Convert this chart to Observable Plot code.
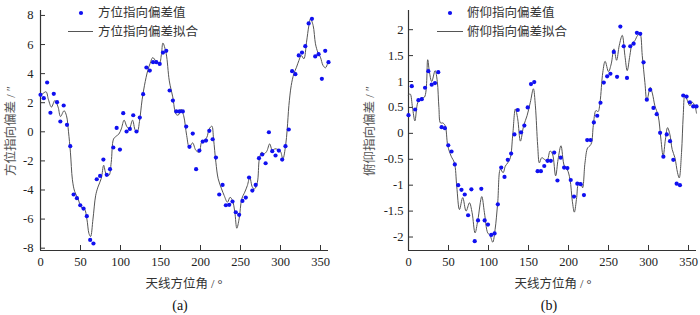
<!DOCTYPE html>
<html><head><meta charset="utf-8">
<script src="https://cdn.jsdelivr.net/npm/d3@7"></script>
<script src="https://cdn.jsdelivr.net/npm/@observablehq/plot@0.6"></script>
<style>
body{margin:0;background:#fff;}
#wrap{position:relative;width:700px;height:315px;overflow:hidden;font-family:"Liberation Serif","Noto Sans CJK SC",serif;}
.panel{position:absolute;top:0;width:350px;height:315px;}
.panel svg{position:absolute;left:0;top:0;}
.t{position:absolute;white-space:nowrap;line-height:1;color:#222;}
.ylab{font-size:12.5px;color:#555;transform:translate(-50%,-50%) rotate(-90deg);}
.xlab{font-size:12.5px;color:#333;transform:translate(-50%,-50%);}
.cap{font-size:14px;color:#111;transform:translate(-50%,-50%);}
.leg{font-size:12.5px;color:#333;transform:translateY(-50%);}
.sw{position:absolute;}
</style></head>
<body><div id="wrap"></div>
<script>
// Antenna azimuth of each measurement (deg)
const azimuth = [0,4.1,8.3,12.4,16.6,20.7,24.8,29.0,33.1,37.2,41.4,45.5,49.7,53.8,57.9,62.1,66.2,70.3,74.5,78.6,82.8,86.9,91.0,95.2,99.3,103.4,107.6,111.7,115.9,120.0,124.1,128.3,132.4,136.6,140.7,144.8,149.0,153.1,157.2,161.4,165.5,169.7,173.8,177.9,182.1,186.2,190.3,194.5,198.6,202.8,206.9,211.0,215.2,219.3,223.4,227.6,231.7,235.9,240.0,244.1,248.3,252.4,256.6,260.7,264.8,269.0,273.1,277.2,281.4,285.5,289.7,293.8,297.9,302.1,306.2,310.3,314.5,318.6,322.8,326.9,331.0,335.2,339.3,343.4,347.6,351.7,355.9,360.0];
// Azimuth pointing deviation (arcsec)
const azDev = [2.54,2.31,3.39,1.31,2.61,2.04,0.71,1.81,0.48,-0.99,-4.31,-4.56,-5.05,-5.28,-5.8,-7.43,-7.68,-3.26,-3.03,-1.91,-2.96,-2.57,-1.08,0.27,-1.22,1.28,0.02,0.2,1.14,0.02,0.98,2.59,4.42,4.21,4.79,4.79,4.67,5.45,5.57,2.84,2.15,1.4,1.4,1.4,0.36,-1.03,-0.12,-2.57,-1.29,-0.67,-0.6,0.07,-0.51,-1.77,-4.31,-3.65,-5.05,-5.02,-4.79,-5.53,-5.71,-4.75,-4.52,-3.14,-4.04,-3.65,-1.81,-1.56,-2.16,-0.03,-1.33,-1.63,-1.29,-1.91,-0.99,0.16,4.17,3.96,5.25,5.45,5.89,7.45,7.77,5.18,5.34,3.64,5.57,4.79];
// Elevation pointing deviation (arcsec)
const elDev = [0.35,0.91,0.46,0.64,0.66,0.88,1.2,0.94,0.97,1.18,0.12,0.1,-0.23,-0.35,-0.6,-1.0,-1.09,-1.18,-1.58,-1.08,-2.08,-1.68,-1.07,-1.68,-1.76,-1.96,-1.93,-1.37,-0.66,-0.84,-0.51,-0.39,-0.02,0.45,0.02,0.15,0.5,0.95,0.99,-0.73,-0.73,-0.63,-0.53,-0.53,-0.37,-0.91,-0.47,-0.66,-0.67,-0.9,-1.22,-0.97,-0.98,-1.19,-0.13,-0.13,0.21,0.34,0.59,0.98,1.1,1.15,1.57,1.09,2.06,1.68,1.07,1.68,1.73,1.94,1.92,1.37,0.65,0.84,0.49,0.37,0.01,-0.45,-0.02,-0.15,-0.51,-0.97,-1.0,0.73,0.71,0.6,0.52,0.52];
// Fitted curves
const azFitX = [0,3.5,7,10,13.7,18,22,25,29.5,32.5,35,37.4,39.9,42.7,46.9,51.1,55,58,60.6,62.6,65.6,68.9,71.8,76,79,82,85.5,88.4,91.3,94.6,98,101,104.5,108,111,115,118.5,121,123.7,127,130,134,137,140.3,144.5,148.6,151.1,153,157,161,165.3,169.5,172.3,175.7,179,182.7,186,190.1,194.3,198.4,201.4,204.7,208,210.9,214.2,216.3,219.2,222.1,226.3,229.6,233.7,237,240,242.9,245.4,248.3,251.6,255.3,258.6,261.6,264.9,267.8,271.1,273.6,276.5,279.4,282.7,286.5,289.8,293.1,296.9,300,303,306.4,308.4,310.5,313.4,316.7,320,323,325.9,329.2,332.5,335.5,337.5,340.8,343.7,346.6,349.9,353.2,356.2,359,360];
const azFitY = [2.5,2.65,2.75,2.2,1.7,2.15,1.7,1.05,1.45,1.1,0.0,-1.4,-3.3,-4.1,-4.6,-5.2,-5.3,-6.0,-7.0,-7.2,-6.0,-4.4,-3.8,-3.2,-2.3,-2.9,-3.0,-2.1,-0.5,-0.3,-0.15,0.2,0.8,0.35,0.2,0.8,0.1,0.0,0.7,2.2,3.2,4.2,4.7,5.1,4.85,4.7,5.3,6.1,5.4,3.5,2.4,1.2,1.15,1.55,1.1,-0.25,-1.06,-0.76,-1.28,-1.4,-0.71,-0.6,-0.37,0.2,0.39,-0.48,-2.09,-3.23,-3.92,-4.38,-4.84,-4.5,-4.73,-5.53,-6.63,-5.98,-4.61,-4.15,-3.69,-3.12,-3.81,-3.92,-3.47,-1.86,-1.4,-1.51,-1.35,-0.83,-1.28,-1.17,-1.22,-1.35,-1.86,-0.94,0.2,1.81,3.18,3.99,4.44,4.9,5.25,5.02,6.16,7.31,7.77,7.31,6.05,5.48,5.13,4.56,4.4,4.7,4.8];
const elFitX = [0,2.1,5,8,11.7,15.8,20,24,26,29,33.3,36,38,40,42.9,45.8,49.1,53.3,57.4,60.3,63.7,67.8,72,76.2,79.5,83.2,86.6,91.6,94.9,99,102,105.3,108.2,111.5,114.9,118.2,121.1,124,127.3,130.2,133.6,136.5,139.9,144,148.2,152.3,156.1,158.6,161.5,163.6,166.5,169.8,173.2,177,180,183.9,187,190.6,194.8,198.5,201.9,204.8,207.3,210.2,212.3,215.1,217.6,220.6,223.9,226.8,228.9,231,234.3,237,239.4,242.9,245.8,250,253.4,256.8,260.1,263.5,267.2,270.5,273.4,276.7,279.6,283,286.4,289.3,292.2,295.5,298,302.2,305,308,312.1,315.5,318.3,321.2,323.8,326.7,329.6,333,336.3,338.4,341.3,343.4,345.5,348.7,351.7,354.6,358,360];
const elFitY = [0.74,0.76,0.5,0.24,0.6,0.68,0.7,1.42,1.2,1.0,1.21,1.0,0.5,0.2,0.2,0.15,-0.24,-0.44,-0.57,-1.02,-1.47,-1.24,-1.5,-1.34,-1.53,-1.92,-1.68,-1.22,-1.53,-1.92,-1.97,-2.1,-1.86,-1.34,-0.69,-0.76,-0.63,-0.57,-0.47,-0.05,0.47,0.28,-0.15,0.15,0.34,0.6,0.86,0.53,-0.24,-0.57,-0.47,-0.5,-0.53,-0.34,-0.4,-0.82,-0.5,-0.24,-0.63,-0.7,-0.89,-1.31,-1.52,-1.24,-0.98,-0.95,-1.05,-0.57,-0.28,-0.24,-0.18,0.15,0.44,0.42,0.6,1.18,1.39,1.19,1.34,1.63,1.41,1.7,1.89,1.5,1.21,1.5,1.73,1.79,1.89,1.92,1.5,0.98,0.63,0.89,0.76,0.53,0.34,-0.11,-0.44,-0.11,0.11,-0.02,-0.31,-0.47,-0.76,-0.86,-0.37,0.34,0.74,0.63,0.53,0.6,0.53,0.39];

const xTicks = [0,50,100,150,200,250,300,350];
const xDomain = [0,360];
const azTicks = [-8,-6,-4,-2,0,2,4,6,8];
const azDomain = [-8.16,8.34];
const elTicks = [-2,-1.5,-1,-0.5,0,0.5,1,1.5,2];
const elDomain = [-2.26,2.37];

const xLabel = "天线方位角 / °";
const panels = [
  {left:0, values:azDev, fx:azFitX, fy:azFitY, yTicks:azTicks, yDomain:azDomain, ml:40, mr:22, pad:7,
   ylabel:"方位指向偏差 / ″", ylx:11, legDot:"方位指向偏差值", legLine:"方位指向偏差拟合",
   dotX:81, lineX0:68, lineX1:93, textX:98, xlx:184, capx:180, cap:"(a)"},
  {left:350, values:elDev, fx:elFitX, fy:elFitY, yTicks:elTicks, yDomain:elDomain, ml:58, mr:4, pad:5,
   ylabel:"俯仰指向偏差 / ″", ylx:20, legDot:"俯仰指向偏差值", legLine:"俯仰指向偏差拟合",
   dotX:100, lineX0:87, lineX1:113, textX:117, xlx:203, capx:199, cap:"(b)"}
];

const wrap = document.getElementById("wrap");
const fmt = d => String(d);
for (const p of panels) {
  const pts = azimuth.map((a,i) => ({a, v:p.values[i]}));
  const fit = p.fx.map((a,i) => ({a, v:p.fy[i]}));
  const chart = Plot.plot({
    width:350, height:272, marginLeft:p.ml, marginRight:p.mr, marginTop:10, marginBottom:22,
    style:{fontFamily:'"Liberation Serif",serif', fontSize:"12.5px", color:"#222", background:"transparent"},
    x:{domain:xDomain},
    y:{domain:p.yDomain},
    marks:[
      Plot.axisX({ticks:xTicks, tickSize:5, dy:-5, tickPadding:7, tickFormat:fmt, label:null, stroke:"#333"}),
      Plot.axisY({ticks:p.yTicks, tickSize:5, dx:5, tickPadding:p.pad, tickFormat:fmt, label:null, stroke:"#333"}),
      Plot.ruleX([xDomain[0]], {stroke:"#333", strokeWidth:1.2}),
      Plot.ruleY([p.yDomain[0]], {stroke:"#333", strokeWidth:1.2}),
      Plot.line(fit, {x:"a", y:"v", stroke:"#555", strokeWidth:1, curve:"catmull-rom"}),
      Plot.dot(pts, {x:"a", y:"v", r:2.1, fill:"#1010f0", stroke:"none"})
    ]
  });
  const div = document.createElement("div");
  div.className = "panel";
  div.style.left = p.left + "px";
  div.appendChild(chart);
  const add = (cls, text, x, y) => {
    const t = document.createElement("div");
    t.className = "t " + cls; t.textContent = text;
    t.style.left = x + "px"; t.style.top = y + "px";
    div.appendChild(t);
  };
  add("ylab", p.ylabel, p.ylx, 131);
  add("xlab", xLabel, p.xlx, 284);
  add("cap", p.cap, p.capx, 306);
  add("leg", p.legDot, p.textX, 13);
  add("leg", p.legLine, p.textX, 31.5);
  const sw = document.createElementNS("http://www.w3.org/2000/svg","svg");
  sw.setAttribute("width", 350); sw.setAttribute("height", 40);
  sw.setAttribute("class","sw"); sw.style.left="0px"; sw.style.top="0px";
  sw.innerHTML = `<circle cx="${p.dotX}" cy="13" r="2.1" fill="#1010f0"/><line x1="${p.lineX0}" x2="${p.lineX1}" y1="31.5" y2="31.5" stroke="#555" stroke-width="1"/>`;
  div.appendChild(sw);
  wrap.appendChild(div);
}
</script></body></html>
